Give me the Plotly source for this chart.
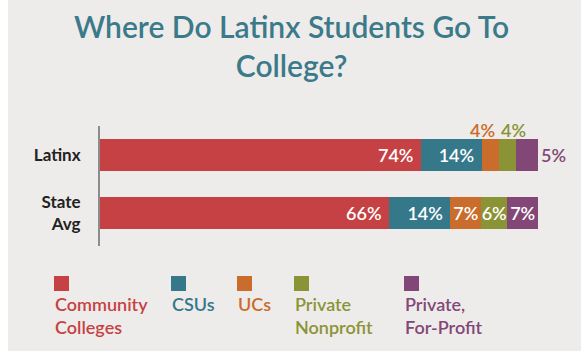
import plotly.graph_objects as go

categories = ["Latinx", "State<br>Avg"]
series_names = ["Community<br>Colleges", "CSUs", "UCs", "Private<br>Nonprofit", "Private,<br>For-Profit"]
community = [74, 66]
csus = [14, 14]
ucs = [4, 7]
private_np = [4, 6]
private_fp = [5, 7]
colors = ["#C64143", "#35788A", "#C96C2C", "#8A9436", "#834777"]

values = [community, csus, ucs, private_np, private_fp]

W, H = 581, 353
L, R, T, B = 100, 43, 126, 107
PW, PH = W - L - R, H - T - B

def px(x):
    return (x - L) / PW

def py(y):
    return (H - B - y) / PH

FONT = "Lato"
fig = go.Figure()

for i, (name, vals, col) in enumerate(zip(series_names, values, colors)):
    if i < 2:
        texts = [f"{v}% " for v in vals]
        anchor = "end"
        tpos = ["inside", "inside"]
        tcol = ["white", "white"]
    elif i < 4:
        texts = ["", f"{vals[1]}%"]
        anchor = "middle"
        tpos = ["none", "inside"]
        tcol = ["white", "white"]
    else:
        texts = [f"{vals[0]}%", f"{vals[1]}%"]
        anchor = "middle"
        tpos = ["outside", "inside"]
        tcol = [col, "white"]
    fig.add_trace(go.Bar(
        y=categories, x=vals, orientation="h", name=name.replace("<br>", " "),
        marker=dict(color=col, line=dict(width=0)),
        text=texts, textposition=tpos, insidetextanchor=anchor, textangle=0,
        textfont=dict(family=FONT, size=18, color=tcol, weight=600),
        constraintext="none", cliponaxis=False, showlegend=False,
        hoverinfo="skip",
    ))

annotations = []
# small Latinx segment labels placed above the bar
shifts = {2: -8, 3: 6}
tot = sum(v[0] for v in values)
cum = 0
for i, vals in enumerate(values):
    start = cum
    cum += vals[0]
    if i in shifts:
        center = (start + vals[0] / 2) / tot * 100
        annotations.append(dict(
            x=center, y=categories[0], xref="x", yref="y",
            text=f"{vals[0]}%", showarrow=False, yshift=25, xshift=shifts[i],
            font=dict(family=FONT, size=18, color=colors[i], weight=600),
        ))

# legend as squares with coloured labels beneath
leg_x = [54, 171, 237, 294, 404]
shapes = []
for name, col, lx in zip(series_names, colors, leg_x):
    shapes.append(dict(type="rect", xref="paper", yref="paper",
                       x0=px(lx), x1=px(lx + 15), y0=py(291), y1=py(276),
                       fillcolor=col, line=dict(width=0)))
    annotations.append(dict(
        x=px(lx - 1), y=py(291), xref="paper", yref="paper",
        xanchor="left", yanchor="top", align="left", showarrow=False,
        text=name, font=dict(family=FONT, size=18, color=col, weight=600),
    ))

# white strips at left and bottom edges
shapes.append(dict(type="rect", xref="paper", yref="paper",
                   x0=px(-5), x1=px(8), y0=py(H + 5), y1=py(-5),
                   fillcolor="white", line=dict(width=0), layer="below"))
shapes.append(dict(type="rect", xref="paper", yref="paper",
                   x0=px(-5), x1=px(W + 5), y0=py(H + 5), y1=py(351),
                   fillcolor="white", line=dict(width=0), layer="below"))

annotations.append(dict(
    x=px(291), y=py(6), xref="paper", yref="paper", xanchor="center", yanchor="top",
    showarrow=False, text="Where Do Latinx Students Go To<br>College?",
    font=dict(family=FONT, size=30, color="#3B7A8B", weight=600),
))

fig.update_layout(
    width=W, height=H,
    margin=dict(l=L, r=R, t=T, b=B, pad=0, autoexpand=False),
    barmode="stack", barnorm="percent", bargap=0.448,
    paper_bgcolor="#EEECEA", plot_bgcolor="#EEECEA",
    xaxis=dict(range=[0, 100], visible=False, fixedrange=True, automargin=False),
    yaxis=dict(range=[1.569, -0.5], showline=True, linecolor="#8C8C8C", linewidth=2,
               showgrid=False, zeroline=False, ticks="", ticklabelstandoff=14,
               automargin=False,
               tickfont=dict(family=FONT, size=17, color="#222222", weight="bold"),
               fixedrange=True),
    annotations=annotations, shapes=shapes,
    font=dict(family=FONT),
)

fig.write_html("out.html", config={"displayModeBar": False},
               post_script="document.body.style.margin='0';document.body.style.overflow='hidden';")
